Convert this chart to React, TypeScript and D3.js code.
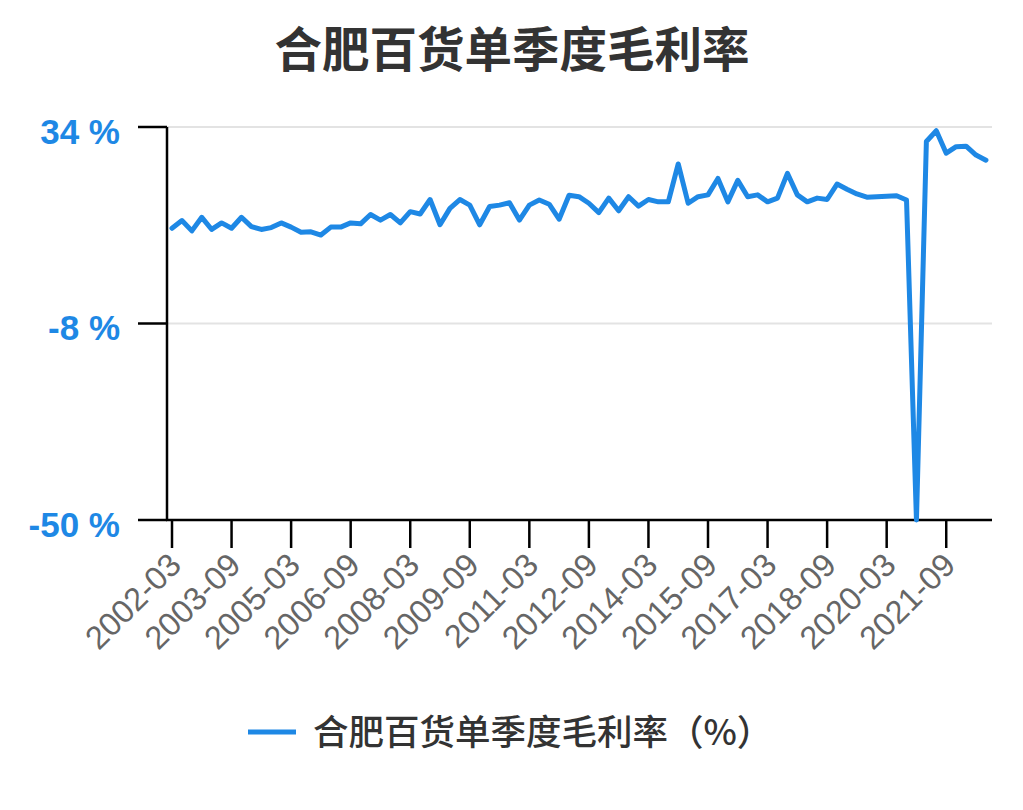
import React from "react";
import * as d3 from "d3";

const quarters: string[] = [
  "2002-03","2002-06","2002-09","2002-12",
  "2003-03","2003-06","2003-09","2003-12",
  "2004-03","2004-06","2004-09","2004-12",
  "2005-03","2005-06","2005-09","2005-12",
  "2006-03","2006-06","2006-09","2006-12",
  "2007-03","2007-06","2007-09","2007-12",
  "2008-03","2008-06","2008-09","2008-12",
  "2009-03","2009-06","2009-09","2009-12",
  "2010-03","2010-06","2010-09","2010-12",
  "2011-03","2011-06","2011-09","2011-12",
  "2012-03","2012-06","2012-09","2012-12",
  "2013-03","2013-06","2013-09","2013-12",
  "2014-03","2014-06","2014-09","2014-12",
  "2015-03","2015-06","2015-09","2015-12",
  "2016-03","2016-06","2016-09","2016-12",
  "2017-03","2017-06","2017-09","2017-12",
  "2018-03","2018-06","2018-09","2018-12",
  "2019-03","2019-06","2019-09","2019-12",
  "2020-03","2020-06","2020-09","2020-12",
  "2021-03","2021-06","2021-09","2021-12",
  "2022-03","2022-06","2022-09",
];

const grossMargin: number[] = [
  12.35, 14.0, 11.8, 14.7, 12.1, 13.5, 12.35, 14.7, 12.7, 12.1,
  12.5, 13.5, 12.6, 11.5, 11.6, 10.9, 12.6, 12.6, 13.5, 13.3,
  15.3, 14.1, 15.3, 13.5, 15.9, 15.4, 18.5, 13.1, 16.6, 18.5,
  17.3, 13.1, 17.0, 17.3, 17.8, 14.1, 17.3, 18.4, 17.5, 14.3,
  19.4, 19.1, 17.7, 15.7, 18.8, 16.1, 19.1, 17.1, 18.5, 18.0,
  18.0, 26.1, 17.7, 19.1, 19.5, 23.0, 18.0, 22.6, 19.1, 19.5,
  18.0, 18.8, 24.1, 19.5, 18.0, 18.8, 18.5, 21.8, 20.7, 19.7,
  19.0, 19.1, 19.2, 19.3, 18.4, -50, 30.9, 33.2, 28.4, 29.8,
  29.9, 28.0, 26.9,
];

const yTicks: number[] = [-50, -8, 34];
const xTickLabels: string[] = [
  "2002-03","2003-09","2005-03","2006-09","2008-03","2009-09","2011-03",
  "2012-09","2014-03","2015-09","2017-03","2018-09","2020-03","2021-09",
];

const title = "合肥百货单季度毛利率";
const legendLabel = "合肥百货单季度毛利率（%）";

const BLUE = "#1e88e5";
const CJK = "'Noto Sans CJK SC', 'Noto Sans', sans-serif";
const LATIN = "'Liberation Sans', Arial, sans-serif";

export default function App() {
  const width = 1023;
  const height = 810;
  const axisLeft = 167;
  const axisRight = 992;
  const yTop = 127;
  const yBottom = 520;

  const x = d3.scalePoint<string>().domain(quarters).range([172, 172 + 9.926 * (quarters.length - 1)]);
  const y = d3.scaleLinear().domain([-50, 34]).range([yBottom, yTop]);

  const line = d3
    .line<number>()
    .x((_, i) => x(quarters[i]) as number)
    .y((d) => y(d))
    .curve(d3.curveLinear);

  return (
    <svg
      width={width}
      height={height}
      style={{ position: "absolute", left: 0, top: 0, background: "#fff" }}
    >
      <text
        x={512}
        y={67}
        textAnchor="middle"
        fontFamily={CJK}
        fontWeight={700}
        fontSize={47.5}
        fill="#333"
      >
        {title}
      </text>

      {yTicks.map((t) => (
        <g key={t}>
          {t !== -50 && (
            <line x1={axisLeft} x2={axisRight} y1={y(t)} y2={y(t)} stroke="#e3e3e3" strokeWidth={2} />
          )}
          <line x1={138} x2={axisLeft} y1={y(t)} y2={y(t)} stroke="#000" strokeWidth={2.5} />
          <text
            x={120}
            y={y(t) + 4}
            textAnchor="end"
            dominantBaseline="central"
            fontFamily={LATIN}
            fontWeight={700}
            fontSize={35}
            fill={BLUE}
          >
            {`${t} %`}
          </text>
        </g>
      ))}

      <line x1={axisLeft} x2={axisLeft} y1={yTop} y2={yBottom + 1} stroke="#000" strokeWidth={2.5} />
      <line x1={axisLeft - 1} x2={axisRight} y1={yBottom} y2={yBottom} stroke="#000" strokeWidth={2.5} />

      {xTickLabels.map((lab) => {
        const px = x(lab) as number;
        return (
          <g key={lab}>
            <line x1={px} x2={px} y1={yBottom} y2={548} stroke="#000" strokeWidth={2.5} />
            <text
              transform={`translate(${px + 11},${567}) rotate(-45)`}
              textAnchor="end"
              fontFamily={LATIN}
              fontSize={32.5}
              fill="#666"
            >
              {lab}
            </text>
          </g>
        );
      })}

      <path
        d={line(grossMargin) || ""}
        fill="none"
        stroke={BLUE}
        strokeWidth={5}
        strokeLinejoin="round"
        strokeLinecap="round"
      />

      <line x1={248} x2={296} y1={732} y2={732} stroke={BLUE} strokeWidth={5} />
      <text
        x={313}
        y={745}
        fontFamily={CJK}
        fontWeight={500}
        fontSize={35.5}
        fill="#333"
      >
        {legendLabel}
      </text>
    </svg>
  );
}
